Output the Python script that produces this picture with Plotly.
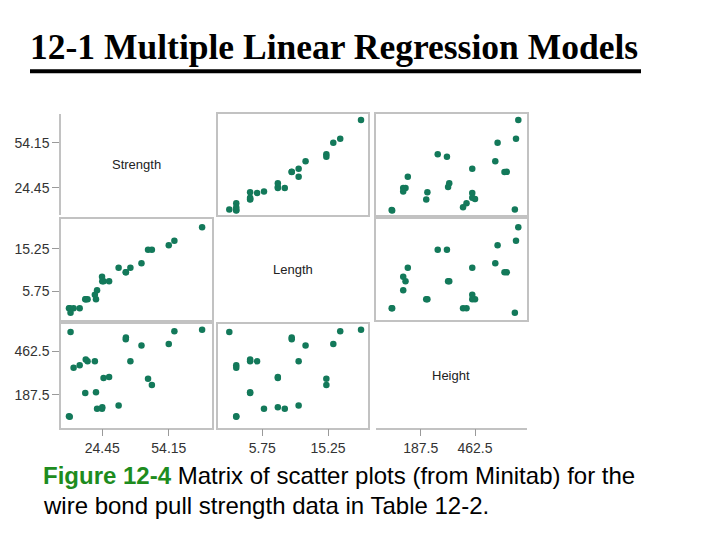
import plotly.graph_objects as go

# Wire bond pull strength data (Table 12-2)
strength = [9.95, 24.45, 31.75, 35.00, 25.02, 16.86, 14.38, 9.60, 24.35, 27.50,
            17.08, 37.00, 41.95, 11.66, 21.65, 17.89, 69.00, 10.30, 34.93, 46.59,
            44.88, 54.12, 56.63, 22.13, 21.15]
length = [2, 8, 11, 10, 8, 4, 2, 2, 9, 8, 4, 11, 12, 2, 4, 4, 20, 1, 10, 15,
          15, 16, 17, 6, 5]
height = [50, 110, 120, 550, 295, 200, 375, 52, 100, 300, 412, 400, 500, 360, 205,
          400, 600, 585, 540, 250, 290, 510, 590, 100, 400]

var_names = ["Strength", "Length", "Height"]
strength_ticks = [24.45, 54.15]
length_ticks = [5.75, 15.25]
height_ticks = [187.5, 462.5]
strength_ticklabels = ["24.45", "54.15"]
length_ticklabels = ["5.75", "15.25"]
height_ticklabels = ["187.5", "462.5"]

data = [strength, length, height]
ticks = [strength_ticks, length_ticks, height_ticks]
ticklabels = [strength_ticklabels, length_ticklabels, height_ticklabels]

W, H = 720, 540
# layout in pixels
col_px = [(61, 211.5), (218.3, 368.3), (376, 526.7)]
row_px = [(113.7, 215), (219, 320), (324, 427.7)]
x_ranges = [[6.04, 73.19], [-0.59, 21.05], [-18.2, 636.5]]
y_ranges = [[6.65, 73.13], [-0.63, 21.85], [-20, 636]]
diag_height_x_range = [-38.9, 724.3]

BOX = "#c2c2c2"
TICKC = "#9a9a9a"
DOT = "#13795a"
TICKFONT = dict(family="Liberation Sans, Arial, sans-serif", size=14, color="#333333")

fig = go.Figure()
layout = {}
annotations = []

for r in range(3):
    for c in range(3):
        k = r * 3 + c + 1
        xs = "" if k == 1 else str(k)
        xname, yname = "xaxis" + xs, "yaxis" + xs
        xref, yref = "x" + xs, "y" + xs
        xd = [col_px[c][0] / W, col_px[c][1] / W]
        yd = [1 - row_px[r][1] / H, 1 - row_px[r][0] / H]
        xa = dict(domain=xd, anchor=yref, range=x_ranges[c], showgrid=False,
                  zeroline=False, showticklabels=False, ticks="", fixedrange=True)
        ya = dict(domain=yd, anchor=xref, range=y_ranges[r], showgrid=False,
                  zeroline=False, showticklabels=False, ticks="", fixedrange=True)
        if r != c:
            fig.add_trace(go.Scatter(x=data[c], y=data[r], mode="markers",
                                     marker=dict(size=6.5, color=DOT),
                                     xaxis=xref, yaxis=yref, showlegend=False,
                                     hoverinfo="skip"))
            for a in (xa, ya):
                a.update(showline=True, mirror=True, linecolor=BOX, linewidth=1.5)
        else:
            # empty trace so the diagonal subplot is created
            fig.add_trace(go.Scatter(x=[], y=[], mode="markers", xaxis=xref,
                                     yaxis=yref, showlegend=False, hoverinfo="skip"))
            xa.update(showline=False)
            ya.update(showline=False)
            annotations.append(dict(text=var_names[r], xref="paper", yref="paper",
                                    x=(xd[0] + xd[1]) / 2, y=(yd[0] + yd[1]) / 2,
                                    xanchor="center", yanchor="middle",
                                    showarrow=False,
                                    font=dict(family="Liberation Sans, Arial, sans-serif",
                                              size=13, color="#222222")))
            if r == 0:
                ya.update(showline=True, linecolor=BOX, linewidth=1.5)
            if r == 2:
                xa.update(showline=True, linecolor=BOX, linewidth=1.5,
                          range=diag_height_x_range)
        if c == 0:
            ya.update(ticks="outside", ticklen=7, tickcolor=TICKC, tickwidth=1,
                      tickvals=ticks[r], ticktext=ticklabels[r], showticklabels=True,
                      tickfont=TICKFONT)
        if r == 2:
            xa.update(ticks="outside", ticklen=7, tickcolor=TICKC, tickwidth=1,
                      tickvals=ticks[c], ticktext=ticklabels[c], showticklabels=True,
                      tickfont=TICKFONT)
        layout[xname] = xa
        layout[yname] = ya

# Title
annotations.append(dict(text="<b>12-1 Multiple Linear Regression Models</b>",
                        xref="paper", yref="paper", x=28 / W, y=1 - 47 / H,
                        xanchor="left", yanchor="middle", showarrow=False,
                        font=dict(family="Liberation Serif, Times New Roman, serif",
                                  size=35.5, color="#000000")))
# Caption
annotations.append(dict(text="<span style='color:#1e8c1e'><b>Figure 12-4</b></span>"
                             " Matrix of scatter plots (from Minitab) for the",
                        xref="paper", yref="paper", x=41 / W, y=1 - 475 / H,
                        xanchor="left", yanchor="middle", showarrow=False,
                        font=dict(family="Liberation Sans, Arial, sans-serif",
                                  size=24, color="#000000")))
annotations.append(dict(text="wire bond pull strength data in Table 12-2.",
                        xref="paper", yref="paper", x=41 / W, y=1 - 505 / H,
                        xanchor="left", yanchor="middle", showarrow=False,
                        font=dict(family="Liberation Sans, Arial, sans-serif",
                                  size=24, color="#000000")))

shapes = [dict(type="line", xref="paper", yref="paper",
               x0=30 / W, x1=641 / W, y0=1 - 71.3 / H, y1=1 - 71.3 / H,
               line=dict(color="#000000", width=4))]

fig.update_layout(width=W, height=H, margin=dict(l=0, r=0, t=0, b=0),
                  paper_bgcolor="white", plot_bgcolor="white",
                  annotations=annotations, shapes=shapes, **layout)

fig.write_html("out.html", config={"displayModeBar": False},
               post_script="document.body.style.margin='0';document.body.style.overflow='hidden';")
